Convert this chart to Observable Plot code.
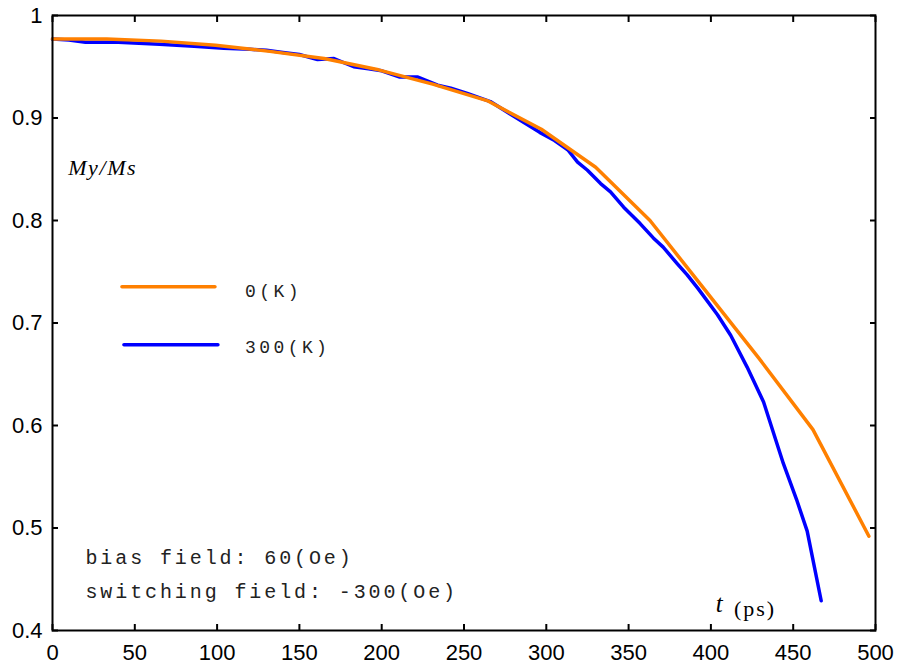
<!DOCTYPE html>
<html>
<head>
<meta charset="utf-8">
<script src="https://cdn.jsdelivr.net/npm/d3@7"></script>
<script src="https://cdn.jsdelivr.net/npm/@observablehq/plot@0.6"></script>
<style>
  html, body { margin: 0; padding: 0; background: #fff; }
  #chart svg { display: block; }
</style>
</head>
<body>
<div id="chart"></div>
<script>
// ---- data ----
const t0K = [0, 33, 66, 99, 132, 165, 198, 231, 264, 297, 330, 363, 396, 429, 462, 496];
const m0K = [0.977, 0.977, 0.975, 0.971, 0.965, 0.958, 0.947, 0.933, 0.917, 0.889, 0.852, 0.800, 0.733, 0.666, 0.596, 0.492];

const t300K = [0, 10, 20, 40, 65, 86, 104, 120, 130, 140, 150, 161, 171, 183, 192, 200, 211, 222, 234, 242, 252, 266, 280, 296, 305, 313, 319, 325, 333, 339, 347, 357, 365, 371, 379.5, 385.6, 392, 404, 412, 422, 432, 444, 452, 458.5, 467];
const m300K = [0.977, 0.976, 0.974, 0.974, 0.972, 0.970, 0.968, 0.967, 0.966, 0.964, 0.962, 0.957, 0.958, 0.950, 0.948, 0.946, 0.940, 0.940, 0.932, 0.929, 0.924, 0.916, 0.902, 0.886, 0.878, 0.869, 0.857, 0.849, 0.836, 0.828, 0.813, 0.797, 0.783, 0.774, 0.758, 0.747, 0.734, 0.708, 0.688, 0.657, 0.623, 0.563, 0.528, 0.497, 0.429];

const seriesNames = ["0(K)", "300(K)"];
const seriesColors = ["#FF8000", "#0000FF"];
const xTicks = [0, 50, 100, 150, 200, 250, 300, 350, 400, 450, 500];
const yTicks = [0.4, 0.5, 0.6, 0.7, 0.8, 0.9, 1.0];
const yLabel = "My/Ms";
const xLabelVar = "t";
const xLabelUnit = "(ps)";
const notes = ["bias field: 60(Oe)", "switching field: -300(Oe)"];

// ---- tables built from the arrays ----
const d0 = t0K.map((t, i) => ({t, m: m0K[i]}));
const d300 = t300K.map((t, i) => ({t, m: m300K[i]}));
const legend = [
  {name: seriesNames[0], color: seriesColors[0], x1: 42.5, x2: 99, y: 0.7354, ty: 0.731},
  {name: seriesNames[1], color: seriesColors[1], x1: 43.7, x2: 100.8, y: 0.6787, ty: 0.676}
];

const mono = "'Liberation Mono', 'DejaVu Sans Mono', monospace";
const serif = "'Liberation Serif', 'DejaVu Serif', serif";

const chart = Plot.plot({
  width: 899,
  height: 667,
  marginLeft: 52,
  marginRight: 24,
  marginTop: 15,
  marginBottom: 37,
  style: {fontFamily: "'Liberation Sans', Arial, sans-serif", background: "#fff", color: "#000"},
  x: {domain: [0, 500]},
  y: {domain: [0.4, 1.0]},
  marks: [
    // tick labels
    Plot.axisX({ticks: xTicks, tickSize: 0, tickPadding: 14, fontSize: 22, label: null}),
    Plot.axisY({ticks: yTicks, tickSize: 0, tickPadding: 10, fontSize: 22, label: null,
                tickFormat: d => String(+d.toFixed(1))}),
    // inward ticks on all sides
    Plot.axisX({ticks: xTicks, anchor: "bottom", tickSize: -6, strokeWidth: 2, tickFormat: () => "", label: null}),
    Plot.axisX({ticks: xTicks, anchor: "top", tickSize: -6, strokeWidth: 2, tickFormat: () => "", label: null}),
    Plot.axisY({ticks: yTicks, anchor: "left", tickSize: -6, strokeWidth: 2, tickFormat: () => "", label: null}),
    Plot.axisY({ticks: yTicks, anchor: "right", tickSize: -6, strokeWidth: 2, tickFormat: () => "", label: null}),
    // data
    Plot.line(d300, {x: "t", y: "m", stroke: seriesColors[1], strokeWidth: 3.5}),
    Plot.line(d0, {x: "t", y: "m", stroke: seriesColors[0], strokeWidth: 3.5}),
    // legend
    Plot.ruleY(legend, {x1: "x1", x2: "x2", y: "y", stroke: "color", strokeWidth: 3.5, strokeLinecap: "round"}),
    Plot.text(legend, {x: 117, y: "ty", text: "name", textAnchor: "start", fontSize: 18,
                       fontFamily: mono, fill: "#222"}),
    // axis names
    Plot.text([yLabel], {x: 9.5, y: 0.851, text: d => d, textAnchor: "start", fontSize: 22,
                         fontStyle: "italic", fontFamily: serif}),
    Plot.text([xLabelVar], {x: 403, y: 0.4255, text: d => d, textAnchor: "start", fontSize: 25,
                            fontStyle: "italic", fontFamily: serif}),
    Plot.text([xLabelUnit], {x: 414, y: 0.4206, text: d => d, textAnchor: "start", fontSize: 22,
                             fontFamily: serif}),
    // notes
    Plot.text(notes, {x: 20, y: (d, i) => [0.4715, 0.4375][i], text: d => d, textAnchor: "start",
                      fontSize: 20, fontFamily: mono, fill: "#222"}),
    Plot.frame({stroke: "#000", strokeWidth: 2})
  ]
});

document.getElementById("chart").append(chart);
// letter spacing for the wide-pitch texts
const spacing = {"0(K)": 3.4, "300(K)": 3.4, "My/Ms": 1.6, "(ps)": 2};
notes.forEach(n => spacing[n] = 2.9);
chart.querySelectorAll("text").forEach(el => {
  const s = spacing[el.textContent];
  if (s !== undefined) el.setAttribute("letter-spacing", s);
});
</script>
</body>
</html>
